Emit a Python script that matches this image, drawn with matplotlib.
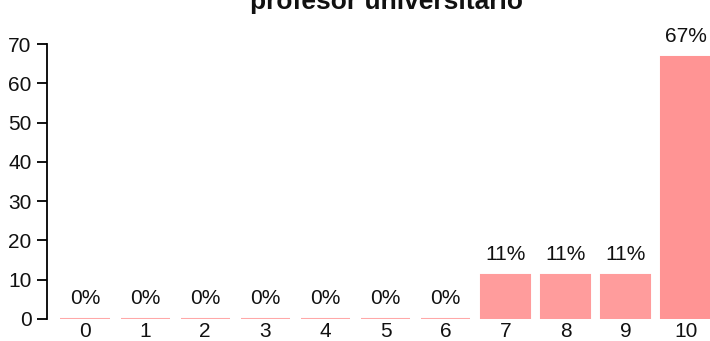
import matplotlib
matplotlib.use("Agg")
import matplotlib.pyplot as plt

categories = ["0", "1", "2", "3", "4", "5", "6", "7", "8", "9", "10"]
values = [0, 0, 0, 0, 0, 0, 0, 11.1, 11.1, 11.1, 66.7]
labels = ["0%", "0%", "0%", "0%", "0%", "0%", "0%", "11%", "11%", "11%", "67%"]
colors = ["#FFA8A8"] * 7 + ["#FF9C9C", "#FF9C9C", "#FF9C9C", "#FF9494"]
title = "profesor universitario"

plt.rcParams['font.family'] = ['Liberation Sans', 'DejaVu Sans']

W, H = 710, 341
fig = plt.figure(figsize=(W / 100, H / 100), dpi=100)
ax = fig.add_axes([47 / W, (H - 319) / H, (W - 47) / W, 275 / H])

x = list(range(len(categories)))
ax.bar(x, values, width=0.816, color=colors, edgecolor=colors, linewidth=1.5)

for xi, v, lab in zip(x, values, labels):
    ax.annotate(lab, (xi, v), xytext=(0, 15), textcoords="offset points",
                ha="center", va="center", fontsize=15, color="#111111",
                annotation_clip=False)

ax.set_xlim(-0.632, 10.4)
ax.set_ylim(0, 70)
ax.set_yticks(range(0, 71, 10))
ax.set_xticks(x)
ax.set_xticklabels(categories)
for s in ["top", "right", "bottom"]:
    ax.spines[s].set_visible(False)
ax.spines["left"].set_bounds(0, 70)
ax.spines["left"].set_linewidth(1.3)
ax.tick_params(axis="y", length=7, width=1.3, labelsize=15, pad=4, labelcolor="#111111")
ax.tick_params(axis="x", length=0, labelsize=15, pad=2, labelcolor="#111111")

fig.text(386 / W, 1 - 9 / H, title, ha="center", va="baseline",
         fontsize=19, fontweight="bold", color="#111111")

fig.savefig("out.png", dpi=100)
